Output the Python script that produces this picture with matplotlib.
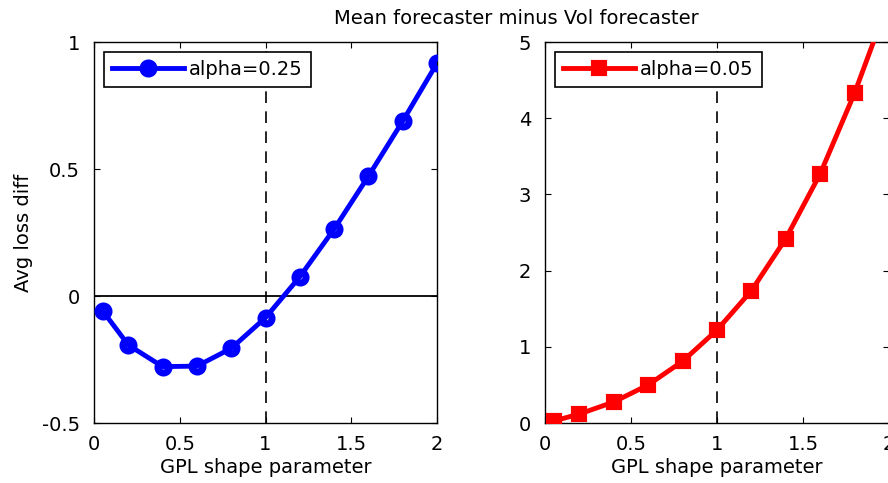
import matplotlib.pyplot as plt
import numpy as np

plt.rcParams['font.family'] = ['DejaVu Sans']
plt.rcParams['font.size'] = 14

# GPL shape parameter values
shape = [0.05, 0.2, 0.4, 0.6, 0.8, 1.0, 1.2, 1.4, 1.6, 1.8, 2.0]
# avg loss diff, alpha=0.25
loss_25 = [-0.058, -0.193, -0.278, -0.276, -0.206, -0.085, 0.076, 0.264, 0.472, 0.689, 0.917]
# avg loss diff, alpha=0.05
loss_05 = [0.026, 0.118, 0.276, 0.50, 0.81, 1.22, 1.736, 2.42, 3.27, 4.33, 5.55]

fig = plt.figure(figsize=(8.88, 4.83), dpi=100)
ax1 = fig.add_axes([0.1059, 0.1242, 0.3863, 0.7888])
ax2 = fig.add_axes([0.6137, 0.1242, 0.3874, 0.7888])

def style(ax):
	ax.tick_params(direction='in', top=True, right=True, length=4.5, width=0.8)
	ax.tick_params(axis='x', pad=8.5)
	ax.tick_params(axis='y', pad=10)
	for s in ax.spines.values():
		s.set_linewidth(1.0)
	ax.set_xlim(0, 2)
	ax.set_xticks([0, 0.5, 1, 1.5, 2])
	ax.set_xticklabels(['0', '0.5', '1', '1.5', '2'])
	ax.set_xlabel("GPL shape parameter", labelpad=3)
	ax.axvline(1, color='black', linestyle=(0, (7, 5)), linewidth=1.2, zorder=1)

ax1.axhline(0, color='black', linewidth=1.3, zorder=1)
ax1.plot(shape, loss_25, color='blue', linewidth=3.5, marker='o', markersize=8,
	markerfacecolor='none', markeredgewidth=5, label='alpha=0.25', zorder=3)
ax1.set_ylim(-0.5, 1)
ax1.set_yticks([-0.5, 0, 0.5, 1])
ax1.set_yticklabels(['-0.5', '0', '0.5', '1'])
ax1.set_ylabel("Avg loss diff", labelpad=6.5)
style(ax1)

ax2.plot(shape, loss_05, color='red', linewidth=3.5, marker='s', markersize=9,
	markerfacecolor='red', markeredgewidth=3, label='alpha=0.05', zorder=3)
ax2.set_ylim(0, 5)
ax2.set_yticks([0, 1, 2, 3, 4, 5])
style(ax2)

for ax in (ax1, ax2):
	leg = ax.legend(loc='upper left', fancybox=False, framealpha=1, edgecolor='black',
		handlelength=3.7, handletextpad=0.26, borderpad=0.42, borderaxespad=0.5)
	leg.get_frame().set_linewidth(1.2)

fig.text(0.581, 0.962, "Mean forecaster minus Vol forecaster", ha='center', va='center')

plt.savefig('out.png', dpi=100)
